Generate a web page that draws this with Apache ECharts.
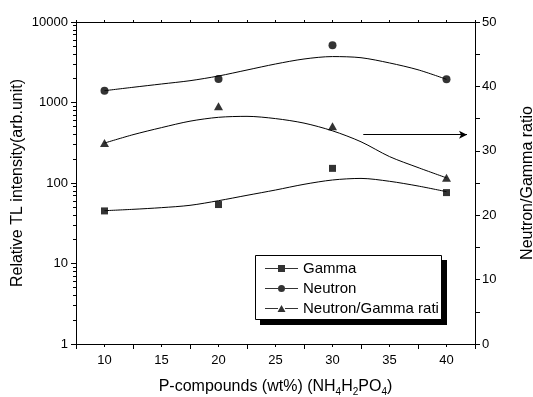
<!DOCTYPE html>
<html>
<head>
<meta charset="utf-8">
<script src="https://cdn.jsdelivr.net/npm/echarts@6/dist/echarts.min.js"></script>
<style>
  html, body { margin: 0; padding: 0; background: #fff; }
  #chart { width: 533px; height: 397px; }
</style>
</head>
<body>
<div id="chart"></div>
<script>
// measured points
const pContent = [10, 20, 30, 40]
const gamma = [45, 54, 152, 76]
const neutron = [1400, 1960, 5150, 1950]
const ratio = [31.2, 36.9, 33.8, 25.8]

// fitted curves
const fitX = [10, 12.5, 15, 17.5, 20, 22.5, 25, 27.5, 30, 32.5, 35, 37.5, 40]
const gammaFit = [45.3, 47.1, 49.4, 52.8, 60.3, 70.3, 81.8, 96.3, 109, 114, 105, 91.8, 78]
const neutronFit = [1402, 1545, 1698, 1866, 2134, 2533, 3008, 3470, 3720, 3600, 3100, 2550, 1941]
const ratioFit = [31.2, 32.5, 33.6, 34.6, 35.2, 35.35, 35.0, 34.3, 33.1, 31.4, 29.1, 27.4, 25.8]

const logTicks = [1, 10, 100, 1000, 10000]

const FONT = 'Liberation Sans, Arial, sans-serif'

const pair = (xs, ys) => xs.map((x, i) => [x, ys[i]])

// legend icons: line - symbol - line
const iconSquare = 'path://M0,3h13v1h-13z M20,3h13v1h-13z M13,0h7v7h-7z'
const iconCircle = 'path://M0,3h13v1h-13z M20,3h13v1h-13z M20,3.5A3.5,3.5 0 1 1 13,3.5A3.5,3.5 0 1 1 20,3.5z'
const iconTriangle = 'path://M0,3h13v1h-13z M20,3h13v1h-13z M16.5,0L20.5,7L12.5,7z'

const chart = echarts.init(document.getElementById('chart'))

const fitLine = (name, data, yAxisIndex) => ({
  name: name + ' fit',
  type: 'line',
  yAxisIndex,
  data: pair(fitX, data),
  smooth: 0.3,
  showSymbol: false,
  silent: true,
  lineStyle: { color: '#000', width: 1 },
  z: 2
})

const tickStyle = { color: '#000', width: 1 }

chart.setOption({
  backgroundColor: '#fff',
  animation: false,
  grid: { left: 76, right: 58, top: 22, bottom: 53, outerBoundsMode: 'none', containLabel: false },
  // legend frame with its hard drop shadow
  graphic: [
    {
      type: 'rect', z: 10, silent: true,
      shape: { x: 260, y: 260, width: 187, height: 65 },
      style: { fill: '#000' }
    },
    {
      type: 'rect', z: 11, silent: true,
      shape: { x: 255.5, y: 255.5, width: 186, height: 64 },
      style: { fill: '#fff', stroke: '#000', lineWidth: 1 }
    }
  ],
  legend: {
    orient: 'vertical',
    left: 255,
    top: 255,
    z: 20,
    itemWidth: 33,
    itemHeight: 7,
    itemGap: 5,
    padding: [6, 0, 6, 10],
    selectedMode: false,
    textStyle: {
      fontFamily: FONT, fontSize: 15, color: '#000', lineHeight: 14,
      width: 139, overflow: 'truncate', ellipsis: ''
    },
    data: [
      { name: 'Gamma', icon: iconSquare },
      { name: 'Neutron', icon: iconCircle },
      { name: 'Neutron/Gamma ratio', icon: iconTriangle }
    ]
  },
  xAxis: [
    {
      type: 'value',
      min: 7.5,
      max: 42.5,
      interval: 2.5,
      name: '{a|P-compounds (wt%) (NH}{s|4}{a|H}{s|2}{a|PO}{s|4}{a|)}',
      nameLocation: 'middle',
      nameGap: 33,
      nameTextStyle: {
        rich: {
          a: { fontFamily: FONT, fontSize: 16, color: '#000' },
          s: { fontFamily: FONT, fontSize: 10, color: '#000', padding: [10, 0, 0, 0] }
        }
      },
      splitLine: { show: false },
      axisLine: { show: true, lineStyle: { color: '#000', width: 1 } },
      axisTick: { show: true, length: 3, lineStyle: tickStyle },
      axisLabel: {
        fontFamily: FONT, fontSize: 13, color: '#000', margin: 10,
        formatter: v => (v % 5 === 0 ? String(v) : '')
      }
    },
    {
      type: 'value',
      position: 'top',
      min: 7.5,
      max: 42.5,
      interval: 2.5,
      splitLine: { show: false },
      axisLine: { show: true, lineStyle: { color: '#000', width: 1 } },
      axisTick: { show: true, length: 2, lineStyle: tickStyle },
      axisLabel: { show: false }
    },
    {
      type: 'value',
      position: 'bottom',
      min: 7.5,
      max: 42.5,
      interval: 5,
      splitLine: { show: false },
      axisLine: { show: false },
      axisTick: { show: true, length: 5, lineStyle: tickStyle },
      axisLabel: { show: false }
    }
  ],
  yAxis: [
    {
      type: 'log',
      logBase: 10,
      min: 1,
      max: 10000,
      name: 'Relative TL intensity(arb.unit)',
      nameLocation: 'middle',
      nameGap: 50,
      nameMoveOverlap: false,
      nameTextStyle: { fontFamily: FONT, fontSize: 16, color: '#000' },
      splitLine: { show: false },
      axisLine: { show: true, lineStyle: { color: '#000', width: 1 } },
      axisTick: { show: true, length: 5, lineStyle: tickStyle },
      minorTick: { show: true, splitNumber: 9, length: 3, lineStyle: tickStyle },
      axisLabel: {
        fontFamily: FONT, fontSize: 13, color: '#000', margin: 8,
        formatter: v => (logTicks.includes(v) ? String(v) : '')
      }
    },
    {
      type: 'value',
      position: 'right',
      min: 0,
      max: 50,
      interval: 10,
      name: 'Neutron/Gamma ratio',
      nameLocation: 'middle',
      nameRotate: 90,
      nameGap: 45,
      nameTextStyle: { fontFamily: FONT, fontSize: 16, color: '#000' },
      splitLine: { show: false },
      axisLine: { show: true, lineStyle: { color: '#000', width: 1 } },
      axisTick: { show: true, length: 5, lineStyle: tickStyle },
      minorTick: { show: true, splitNumber: 2, length: 5, lineStyle: tickStyle },
      axisLabel: { fontFamily: FONT, fontSize: 13, color: '#000', margin: 7 }
    }
  ],
  series: [
    fitLine('Gamma', gammaFit, 0),
    fitLine('Neutron', neutronFit, 0),
    fitLine('Neutron/Gamma ratio', ratioFit, 1),
    {
      name: 'Gamma',
      type: 'scatter',
      yAxisIndex: 0,
      data: pair(pContent, gamma),
      symbol: 'rect',
      symbolSize: 7,
      itemStyle: { color: '#000' },
      z: 3
    },
    {
      name: 'Neutron',
      type: 'scatter',
      yAxisIndex: 0,
      data: pair(pContent, neutron),
      symbol: 'circle',
      symbolSize: 8,
      itemStyle: { color: '#000' },
      z: 3
    },
    {
      name: 'Neutron/Gamma ratio',
      type: 'scatter',
      yAxisIndex: 1,
      data: pair(pContent, ratio),
      symbol: 'triangle',
      symbolSize: [9, 8],
      itemStyle: { color: '#000' },
      z: 3,
      markLine: {
        silent: true,
        animation: false,
        symbol: ['none', 'arrow'],
        symbolSize: [6, 8],
        label: { show: false },
        lineStyle: { color: '#000', width: 1, type: 'solid' },
        data: [[{ coord: [32.7, 32.5] }, { coord: [41.8, 32.5] }]]
      }
    }
  ]
})
</script>
</body>
</html>
